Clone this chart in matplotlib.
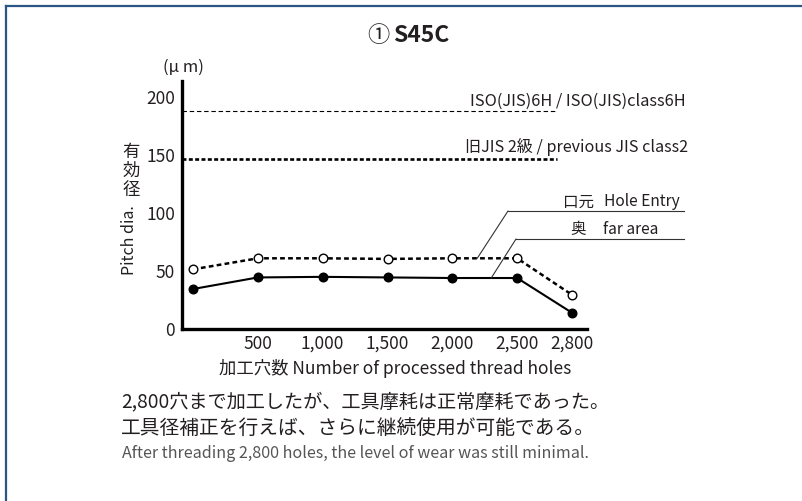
import numpy as np
import matplotlib.pyplot as plt
from matplotlib.lines import Line2D

plt.rcParams['font.family'] = ['Noto Sans CJK JP', 'DejaVu Sans']

# data
holes = [0, 500, 1000, 1500, 2000, 2500, 2800]
hole_entry = [51.5, 61, 61, 60.5, 61, 61, 29.5]
far_area = [34.5, 44.5, 45, 44.5, 44, 44, 14]
tick_values = [500, 1000, 1500, 2000, 2500, 2800]
tick_labels = ["500", "1,000", "1,500", "2,000", "2,500", "2,800"]
iso_6h = 188
old_jis2 = 147

TXT = "#231f20"
W, H = 802, 501


def fx(px):
    return px / W


def fy(py):
    return 1 - py / H


# the last interval (2500 -> 2800) is drawn wider than its share
K = 1.41


def fwd(x):
    x = np.asarray(x, dtype=float)
    return np.where(x <= 2500, x, 2500 + (x - 2500) * K)


def inv(x):
    x = np.asarray(x, dtype=float)
    return np.where(x <= 2500, x, 2500 + (x - 2500) / K)


fig = plt.figure(figsize=(W / 100, H / 100), dpi=100)
ax = fig.add_axes([fx(182), fy(329), fx(587 - 182), (329 - 81) / H])
ax.set_xscale("function", functions=(fwd, inv))

ax.plot(holes, hole_entry, color="black", lw=1.8, ls=(0, (1.9, 1.3)),
        marker="o", ms=6.2, mfc="white", mec="black", mew=1.0, zorder=3)
ax.plot(holes, far_area, color="black", lw=1.5,
        marker="o", ms=6.2, mfc="black", mec="black", zorder=3)

ax.axhline(iso_6h, xmin=0, xmax=0.926, color="black", lw=0.8, ls=(0, (4, 2.5)))
ax.axhline(old_jis2, xmin=0, xmax=0.926, color="black", lw=1.9, ls=(0, (1.5, 0.9)))

ax.set_xlim(-85, 2882)
ax.set_ylim(0, 214)
ax.set_xticks(tick_values)
ax.set_xticklabels(tick_labels)
ax.set_yticks([0, 50, 100, 150, 200])
ax.tick_params(length=0, labelsize=12.5, colors=TXT, pad=5)
ax.tick_params(axis="x", pad=4)
for side in ["top", "right"]:
    ax.spines[side].set_visible(False)
for side in ["left", "bottom"]:
    ax.spines[side].set_linewidth(2.4)
    ax.spines[side].set_color("black")

# leader lines for the two series
for xd, yd, (x0, y0) in [(2192, 61, (508, 211)), (2300, 44, (516, 239))]:
    ax.annotate("", xy=(xd, yd), xycoords="data",
                xytext=(fx(x0), fy(y0)), textcoords="figure fraction",
                arrowprops=dict(arrowstyle="-", color="#333333", lw=0.8,
                                shrinkA=0, shrinkB=0))
    fig.add_artist(Line2D([fx(x0), fx(684)], [fy(y0), fy(y0)],
                          color="#333333", lw=0.8))

fig.text(fx(686), fy(101), "ISO(JIS)6H / ISO(JIS)class6H", ha="right",
         va="center", fontsize=11.8, color=TXT)
fig.text(fx(688), fy(147), "旧JIS 2級 / previous JIS class2", ha="right",
         va="center", fontsize=11.6, color=TXT)
fig.text(fx(563), fy(202), "口元", ha="left", va="center", fontsize=11.2, color=TXT)
fig.text(fx(604), fy(202), "Hole Entry", ha="left", va="center", fontsize=11.2, color=TXT)
fig.text(fx(570), fy(230), "奥", ha="left", va="center", fontsize=11.2, color=TXT)
fig.text(fx(603), fy(230), "far area", ha="left", va="center", fontsize=11.2, color=TXT)

# title
fig.text(fx(390), fy(35), "①", ha="right", va="center", fontsize=16, color=TXT)
fig.text(fx(393), fy(35), "S45C", ha="left", va="center", fontsize=16.5,
         fontweight="bold", color=TXT)

# axis labels
fig.text(fx(183), fy(67), "(μ m)", ha="center", va="center", fontsize=12, color=TXT)
fig.text(fx(131), fy(171), "有\n効\n径", ha="center", va="center",
         fontsize=12.5, linespacing=1.05, color=TXT)
fig.text(fx(130), fy(240), "Pitch dia.", ha="center", va="center",
         rotation=90, fontsize=11.5, color=TXT)
fig.text(fx(395), fy(369), "加工穴数 Number of processed thread holes",
         ha="center", va="center", fontsize=12.5, color=TXT)

# notes below the chart
fig.text(fx(121), fy(402), "2,800穴まで加工したが、工具摩耗は正常摩耗であった。",
         ha="left", va="center", fontsize=13.8, color=TXT)
fig.text(fx(121), fy(429), "工具径補正を行えば、さらに継続使用が可能である。",
         ha="left", va="center", fontsize=14.2, color=TXT)
fig.text(fx(122), fy(454), "After threading 2,800 holes, the level of wear was still minimal.",
         ha="left", va="center", fontsize=11.6, color="#555555")

# frame on the top and left edges
border = "#2b5585"
fig.add_artist(Line2D([fx(5.5), 1], [fy(5.5), fy(5.5)], color=border, lw=1.6))
fig.add_artist(Line2D([fx(5.5), fx(5.5)], [fy(5.5), 0], color=border, lw=1.6))

fig.savefig("out.png", dpi=100)
